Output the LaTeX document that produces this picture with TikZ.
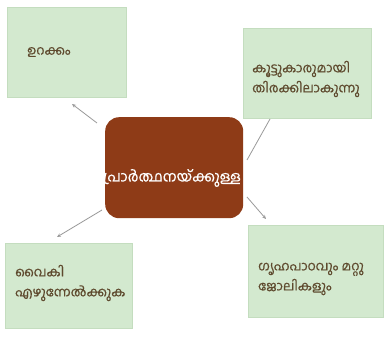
\documentclass[tikz,border=0pt]{standalone}
\usepackage{fontspec}
\newfontfamily\mlfont[Script=Malayalam, FakeBold=0.6]{Hind Kochi}
\usetikzlibrary{arrows.meta}
\definecolor{boxgreen}{HTML}{D3E9CF}
\definecolor{boxedge}{HTML}{C4DDBF}
\definecolor{brownbox}{HTML}{8E3B17}
\definecolor{txtbrown}{HTML}{5E4A2E}
\definecolor{arrgray}{HTML}{9A9A9A}
\tikzset{
  gbox/.style={draw=boxedge, line width=0.8pt, fill=boxgreen, anchor=north west, inner sep=0pt},
  gtext/.style={anchor=west, align=left, text=txtbrown, font=\mlfont\fontsize{13}{20}\selectfont, inner sep=0pt},
  cbox/.style={fill=brownbox, rounded corners=14pt, anchor=north west, inner sep=0pt},
  arr/.style={draw=arrgray, line width=0.8pt, -{Stealth[length=4pt,width=3.5pt]}}
}
\begin{document}
\begin{tikzpicture}[x=1pt,y=-1pt]
\useasboundingbox (0,0) rectangle (392,339);
\fill[white] (0,0) rectangle (392,339);
% boxes
\node[gbox, minimum width=119pt, minimum height=90pt] (tl) at (7,7) {};
\node[gbox, minimum width=128pt, minimum height=90pt] (tr) at (243,28) {};
\node[gbox, minimum width=127pt, minimum height=85pt] (bl) at (5,243) {};
\node[gbox, minimum width=135pt, minimum height=92pt] (br) at (248,225) {};
\node[cbox, minimum width=138pt, minimum height=101pt] (c) at (105,117) {};
% texts
\node[gtext] (tlt) at (27,52) {ഉറക്കം};
\node[gtext] (trt) at (252,79) {കൂട്ടുകാരുമായി\\തിരക്കിലാകുന്നു};
\node[gtext] (blt) at (15,283) {വൈകി\\എഴുന്നേൽക്കുക};
\node[gtext] (brt) at (258,279) {ഗൃഹപാഠവും മറ്റു\\ജോലികളും};
\node[text=white, font=\mlfont\fontsize{14.5}{18}\selectfont, inner sep=0pt] (ct) at (172,178) {പ്രാർത്ഥനയ്ക്കുള്ള};
% connectors
\coordinate (a1s) at (97,123);  \coordinate (a1e) at (72,104);
\coordinate (a2s) at (247,160); \coordinate (a2e) at (270,119);
\coordinate (a3s) at (247,197); \coordinate (a3e) at (266,219);
\coordinate (a4s) at (102,210); \coordinate (a4e) at (57,237);
\draw[arr] (a1s) -- (a1e);
\draw[draw=arrgray, line width=0.8pt] (a2s) -- (a2e);
\draw[arr] (a3s) -- (a3e);
\draw[arr] (a4s) -- (a4e);
\end{tikzpicture}
\end{document}
